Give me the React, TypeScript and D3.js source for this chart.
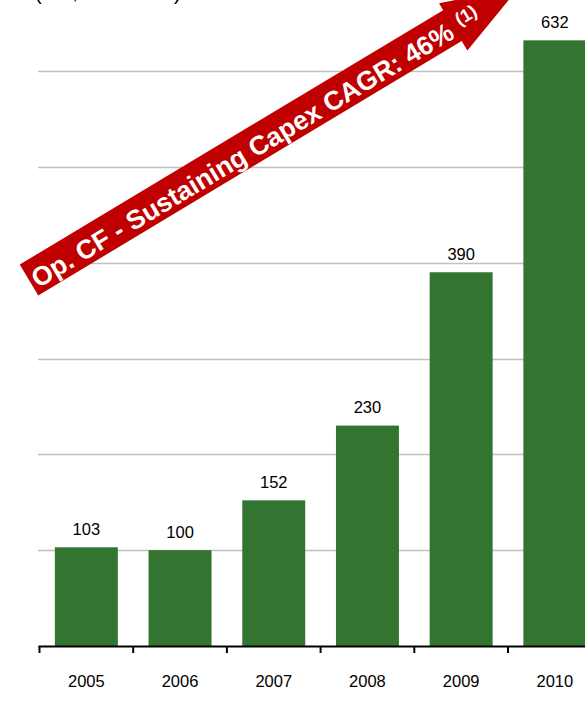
import React from 'react';
import * as d3 from 'd3';

const years = ['2005', '2006', '2007', '2008', '2009', '2010'];
const values = [103, 100, 152, 230, 390, 632];
const gridTicks = [100, 200, 300, 400, 500, 600];
const unitLabel = '(US$ in millions)';
const arrowText = 'Op. CF - Sustaining Capex CAGR: 46%';
const arrowNote = '(1)';

const W = 585;
const H = 705;
const FONT = '"Liberation Sans", Arial, Helvetica, sans-serif';

export default function App() {
  const x = d3.scaleBand<string>().domain(years).range([39.5, 39.5 + 6 * 93.7]).padding(0);
  const y = d3.scaleLinear().domain([0, 600]).range([646, 71]);
  const step = x.step();
  const bw = step * 0.672;
  const base = y(0);

  const arrowPath = d3.path();
  arrowPath.moveTo(0, -18);
  arrowPath.lineTo(494, -18);
  arrowPath.lineTo(494, -26);
  arrowPath.lineTo(571, 1.5);
  arrowPath.lineTo(494, 29);
  arrowPath.lineTo(494, 18);
  arrowPath.lineTo(0, 18);
  arrowPath.closePath();

  return (
    <svg
      width={W}
      height={H}
      style={{ position: 'absolute', left: 0, top: 0, background: '#fff' }}
      fontFamily={FONT}
    >
      <text x={35} y={-0.5} fontSize={20} fill="#000">{unitLabel}</text>
      {gridTicks.map((t) => (
        <line key={t} x1={38} x2={W} y1={Math.round(y(t)) + 0.5} y2={Math.round(y(t)) + 0.5} stroke="#c0c0c0" strokeWidth={1.6} />
      ))}
      {years.map((yr, i) => {
        const bx = (x(yr) as number) + (step - bw) / 2;
        const top = y(values[i]);
        return (
          <g key={yr}>
            <rect x={bx} y={top} width={bw} height={base - top} fill="#337530" />
            <text x={bx + bw / 2} y={top - 12.5} textAnchor="middle" fontSize={16.5} fill="#000">{values[i]}</text>
            <text x={bx + bw / 2} y={687} textAnchor="middle" fontSize={16.5} fill="#000">{yr}</text>
          </g>
        );
      })}
      <line x1={38.5} x2={W} y1={base + 0.5} y2={base + 0.5} stroke="#000" strokeWidth={2} />
      {years.map((yr) => (
        <line key={'t' + yr} x1={(x(yr) as number)} x2={(x(yr) as number)} y1={base} y2={base + 7} stroke="#000" strokeWidth={2} />
      ))}
      <g transform="translate(29,280) rotate(-31)">
        <path d={arrowPath.toString()} fill="#c00000" />
        <text x={3.5} y={12} fontSize={26.5} fontWeight="bold" fill="#fff">
          {arrowText}
          <tspan fontSize={18} dx={4} dy={-8}>{' ' + arrowNote}</tspan>
        </text>
      </g>
    </svg>
  );
}
